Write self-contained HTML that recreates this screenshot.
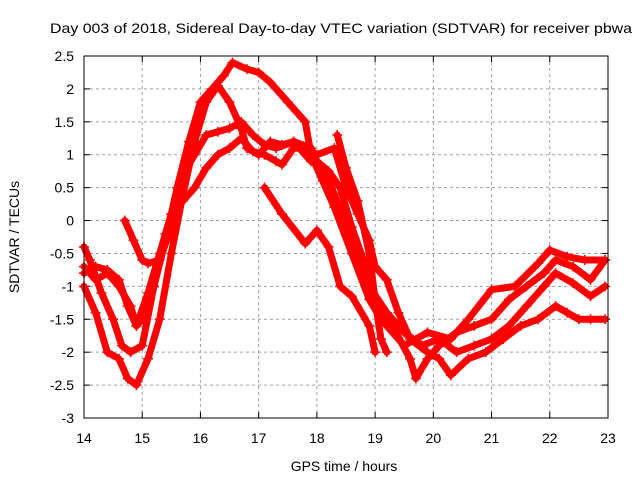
<!DOCTYPE html>
<html><head><meta charset="utf-8"><style>
body{margin:0;background:#fff}
svg{display:block;font-family:"Liberation Sans",sans-serif;font-size:14px}
</style></head><body>
<svg id="c" width="640" height="480">
<text x="50" y="33" textLength="582" lengthAdjust="spacingAndGlyphs">Day 003 of 2018, Sidereal Day-to-day VTEC variation (SDTVAR) for receiver pbwa</text>
<text x="344" y="471" text-anchor="middle">GPS time / hours</text>
<text transform="translate(19,237) rotate(-90)" text-anchor="middle">SDTVAR / TECUs</text>
<g id="grid"></g><g id="ticks"></g><g id="series"></g>
<rect x="84" y="56" width="524" height="362" fill="none" stroke="#000"/>
</svg>
<script>
const xTicks=[14,15,16,17,18,19,20,21,22,23];
const yTicks=[2.5,2,1.5,1,0.5,0,-0.5,-1,-1.5,-2,-2.5,-3];
const yTickLabels=["2.5","2","1.5","1","0.5","0","-0.5","-1","-1.5","-2","-2.5","-3"];
const seriesA=[[14.0,-0.7],[14.2,-0.9],[14.4,-0.8],[14.6,-1.0],[14.8,-1.3],[14.9,-1.6],[15.0,-1.5],[15.2,-1.0],[15.4,-0.3],[15.6,0.5],[15.8,1.2],[16.0,1.8],[16.2,2.0],[16.4,2.2],[16.55,2.4],[16.8,2.3],[17.0,2.25],[17.2,2.1],[17.5,1.8],[17.8,1.5],[17.9,1.0],[18.1,0.6],[18.3,0.2],[18.6,-0.5],[18.9,-1.2],[19.1,-1.5],[19.5,-1.9],[19.9,-1.7],[20.3,-1.8],[20.6,-1.5],[21.0,-1.05],[21.4,-1.0],[21.8,-0.65],[22.0,-0.45],[22.3,-0.55],[22.6,-0.6],[22.95,-0.6]];
const seriesB=[[14.0,-1.0],[14.2,-1.4],[14.4,-2.0],[14.6,-2.1],[14.75,-2.4],[14.9,-2.5],[15.1,-2.1],[15.3,-1.5],[15.5,-0.5],[15.7,0.4],[15.9,1.2],[16.1,1.8],[16.3,2.05],[16.5,1.8],[16.7,1.4],[16.8,1.1],[17.0,1.0],[17.2,1.2],[17.4,1.15],[17.6,1.2],[17.9,1.1],[18.0,0.9],[18.2,0.75],[18.4,0.5],[18.6,-0.1],[18.8,-0.6],[19.0,-1.2],[19.3,-1.6],[19.6,-2.1],[19.7,-2.4],[19.9,-2.1],[20.1,-1.9],[20.4,-1.7],[20.7,-1.6],[21.0,-1.5],[21.3,-1.2],[21.6,-1.0],[21.9,-0.8],[22.1,-0.6],[22.4,-0.7],[22.7,-0.9],[22.95,-0.6]];
const seriesC=[[14.0,-0.4],[14.1,-0.6],[14.3,-1.1],[14.5,-1.5],[14.65,-1.9],[14.8,-2.0],[15.0,-1.9],[15.2,-1.0],[15.4,-0.2],[15.5,0.1],[15.7,0.7],[15.9,1.0],[16.1,1.3],[16.3,1.35],[16.5,1.4],[16.7,1.5],[16.9,1.3],[17.1,1.15],[17.3,1.1],[17.6,1.2],[17.9,0.9],[18.1,0.8],[18.3,0.4],[18.5,-0.1],[18.7,-0.5],[18.9,-1.0],[19.2,-1.4],[19.5,-1.7],[19.8,-1.9],[20.1,-1.8],[20.4,-2.0],[20.7,-1.9],[21.0,-1.8],[21.3,-1.6],[21.6,-1.3],[21.9,-1.0],[22.1,-0.8],[22.4,-0.95],[22.7,-1.15],[22.95,-1.0]];
const seriesD=[[14.0,-0.8],[14.2,-0.7],[14.4,-0.75],[14.6,-0.9],[14.75,-1.3],[14.9,-1.6],[15.1,-1.1],[15.3,-0.5],[15.5,0.1],[15.7,0.3],[15.9,0.5],[16.1,0.8],[16.3,1.0],[16.5,1.1],[16.7,1.25],[16.9,1.05],[17.1,1.0],[17.3,0.9],[17.4,0.85],[17.6,1.1],[17.8,1.1],[18.0,1.0],[18.3,1.1],[18.5,0.5],[18.7,0.1],[18.9,-0.3],[19.0,-0.7],[19.2,-0.9],[19.4,-1.4],[19.6,-1.8],[19.9,-2.0],[20.1,-2.1],[20.3,-2.35],[20.6,-2.1],[20.9,-2.0],[21.2,-1.8],[21.5,-1.6],[21.8,-1.5],[22.1,-1.3],[22.3,-1.4],[22.5,-1.5],[22.7,-1.5],[22.95,-1.5]];
const seriesE=[[14.7,0.0],[14.85,-0.3],[15.0,-0.6],[15.1,-0.65],[15.3,-0.6],[15.5,-0.1],[15.6,0.3]];
const seriesF=[[17.1,0.5],[17.4,0.1],[17.8,-0.35],[18.0,-0.15],[18.2,-0.4],[18.4,-1.0],[18.6,-1.15],[18.9,-1.6],[19.0,-2.0]];
const seriesG=[[18.35,1.3],[18.5,0.8],[18.7,0.3],[18.9,-0.5],[19.0,-1.2],[19.1,-1.8],[19.2,-2.0]];
const allSeries=[seriesA,seriesB,seriesC,seriesD,seriesE,seriesF,seriesG];
const NS="http://www.w3.org/2000/svg";
const X=h=>84+(h-14)*524/9;
const Y=v=>56+(2.5-v)*362/5.5;
function mk(t,a,p){const e=document.createElementNS(NS,t);for(const k in a)e.setAttribute(k,a[k]);p.appendChild(e);return e;}
const g=document.getElementById('grid'),tk=document.getElementById('ticks'),s=document.getElementById('series');
xTicks.forEach(h=>{
 if(h>14&&h<23){const l=mk('line',{x1:X(h),x2:X(h),y1:56,y2:418,stroke:'#a0a0a0','stroke-dasharray':'3,3'},g);
 }
 const t=mk('text',{x:X(h),y:443,'text-anchor':'middle'},tk);t.textContent=h;
 
 mk('line',{x1:X(h),x2:X(h),y1:418,y2:412,stroke:'#000'},tk);mk('line',{x1:X(h),x2:X(h),y1:56,y2:62,stroke:'#000'},tk);
});
yTicks.forEach((v,i)=>{
 if(v<2.5&&v>-3){const l=mk('line',{x1:84,x2:608,y1:Y(v),y2:Y(v),stroke:'#a0a0a0','stroke-dasharray':'3,3'},g);
 }
 const t=mk('text',{x:74,y:Y(v)+5,'text-anchor':'end'},tk);t.textContent=yTickLabels[i];
 
 mk('line',{x1:84,x2:90,y1:Y(v),y2:Y(v),stroke:'#000'},tk);mk('line',{x1:608,x2:602,y1:Y(v),y2:Y(v),stroke:'#000'},tk);
});
allSeries.forEach((sr,i)=>{
 const p=mk('polyline',{points:sr.map(d=>X(d[0])+','+Y(d[1])).join(' '),fill:'none',stroke:'#f00','stroke-width':7,'stroke-linejoin':'round','stroke-linecap':'round'},s);
 
 sr.forEach(d=>{const x=X(d[0]),y=Y(d[1]);
  const m=mk('path',{d:`M${x-5},${y}H${x+5}M${x},${y-5}V${y+5}`,stroke:'#f00','stroke-width':1.5},s);
  });
});
</script>
</body></html>
